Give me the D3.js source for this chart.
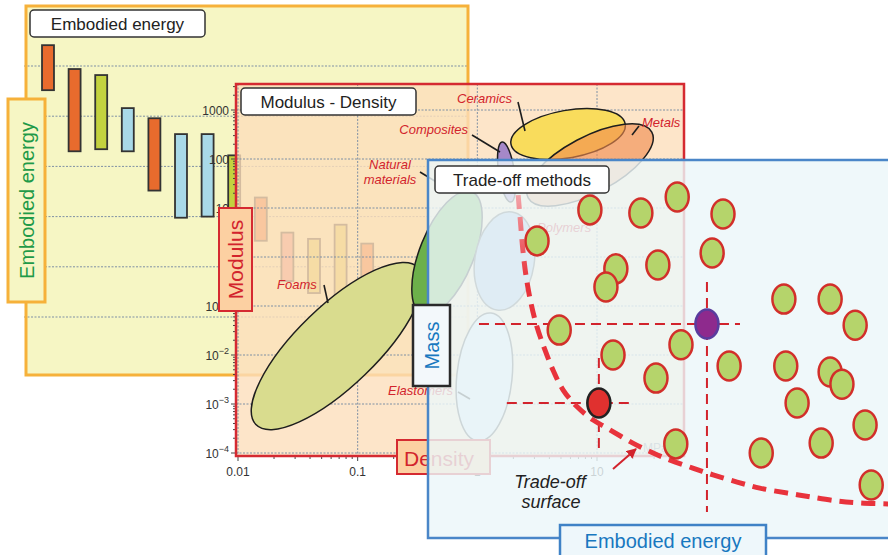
<!DOCTYPE html>
<html>
<head>
<meta charset="utf-8">
<script src="https://cdn.jsdelivr.net/npm/d3@7"></script>
<style>
  html, body { margin: 0; padding: 0; background: #ffffff; }
  svg { display: block; font-family: "Liberation Sans", Arial, Helvetica, sans-serif; }
</style>
</head>
<body>
<svg id="chart" width="888" height="555"></svg>
<script>
// ---------- Embodied energy ranges (MJ/kg), one bar per material family ----------
const barIds      = ["c1","c2","c3","c4","c5","c6","c7","c8","c9","c10","c11","c12","c13","c14"];
const energyLow   = [33000, 2000, 2200, 2000, 330, 95, 100, 130, 33, 5.2, 3.0, 1.6, 0.69, 0.72];
const energyHigh  = [260000, 87000, 66000, 14500, 9100, 4400, 4400, 1660, 240, 48, 36, 69, 29, 7.2];
const barFamily   = ["orange","orange","green","blue","orange","blue","blue","green","orange","pink","yellow","yellow","orange","green"];

// ---------- Modulus (GPa) vs density (Mg/m3) property envelopes ----------
// each envelope: major-axis end points and minor/major width ratio
const materialNames     = ["Foams","Natural materials","Polymers","Elastomers","Composites","Ceramics","Metals"];
const axisStartDensity  = [0.0141, 0.347, 1.46, 1.01, 1.61, 1.91, 2.66];
const axisStartModulus  = [3.8e-4, 0.068, 0.083, 1.76e-4, 222, 201, 16.1];
const axisEndDensity    = [0.321, 0.897, 1.95, 1.30, 1.91, 17.2, 28.7];
const axisEndModulus    = [0.611, 21.4, 8.28, 0.0719, 13.2, 520, 354];
const envelopeWidth     = [0.354, 0.41, 0.6, 0.43, 0.26, 0.41, 0.4];
const densityTicks      = [0.01, 0.1, 1, 10];
const modulusTicks      = [1e-4, 1e-3, 1e-2, 1e-1, 1, 10, 100, 1000];

// ---------- Trade-off: candidate solutions (embodied energy, mass; relative units) ----------
const ptEnergy = [23.1, 34.3, 45.1, 52.8, 62.5, 60.2, 48.7, 39.8, 37.7, 27.8, 39.2, 53.6, 48.3,
                  63.8, 75.4, 85.2, 90.5, 75.8, 85.2, 87.7, 78.2, 92.6, 83.3, 70.6, 52.5, 93.9];
const ptMass   = [78.6, 86.8, 86.0, 90.2, 85.7, 75.4, 72.2, 71.2, 66.4, 55.0, 48.4, 51.1, 42.3,
                  45.5, 63.2, 63.2, 56.3, 45.5, 43.9, 40.7, 35.7, 29.9, 25.1, 22.5, 24.9, 14.0];
// two highlighted solutions and the ranges of their guide lines
const chosenEnergy   = [36.2, 59.1];
const chosenMass     = [35.7, 56.6];
const guideEnergyMin = [16.7, 10.8];
const guideEnergyMax = [43.4, 66.1];
const guideMassMin   = [22.7, 6.9];
const guideMassMax   = [47.6, 67.7];
// trade-off surface (non-dominated front)
const frontEnergy = [19.1, 19.5, 20.1, 20.8, 21.8, 23.1, 24.8, 26.5, 28.6, 31.6, 35.0, 37.9, 43.4,
                     47.7, 51.3, 56.1, 60.4, 65.5, 70.3, 76.1, 80.9, 86.7, 91.5, 97.5];
const frontMass   = [90.7, 84.9, 76.2, 69.1, 62.2, 55.8, 49.7, 44.4, 39.2, 34.7, 31.2, 29.1, 25.1,
                     22.5, 20.6, 18.5, 16.7, 14.8, 13.2, 11.9, 10.9, 9.8, 9.3, 9.0];

// ================================================================
const svg = d3.select("#chart");
const defs = svg.append("defs");

const P1 = {x0: 26,  y0: 6,   x1: 468, y1: 375};
const P2 = {x0: 236, y0: 84,  x1: 684, y1: 456};
const P3 = {x0: 428, y0: 160, x1: 900, y1: 538};

const familyColor = {orange: "#e86b2d", green: "#c3d23f", blue: "#a9d9e8", pink: "#e3827c", yellow: "#ddd24e"};
const gridStroke = "#7f90a4";
const red = "#d2232c";

function labelBox(g, x, y, w, h, text, opts) {
  g.append("rect").attr("x", x).attr("y", y).attr("width", w).attr("height", h)
    .attr("rx", opts.rx != null ? opts.rx : 4).attr("fill", opts.fill).attr("stroke", opts.stroke)
    .attr("stroke-width", opts.sw || 1.5);
  const t = g.append("text").attr("font-size", opts.size).attr("fill", opts.color)
    .attr("text-anchor", "middle").attr("dominant-baseline", "central").text(text);
  if (opts.vertical) {
    t.attr("transform", `translate(${x + w / 2},${y + h / 2}) rotate(-90)`);
  } else {
    t.attr("x", opts.tx != null ? opts.tx : x + w / 2).attr("y", opts.ty != null ? opts.ty : y + h / 2 + 1);
  }
}

// ================= Panel 1 : embodied energy bar chart =================
const g1 = svg.append("g");
g1.append("rect").attr("x", P1.x0).attr("y", P1.y0)
  .attr("width", P1.x1 - P1.x0).attr("height", P1.y1 - P1.y0).attr("fill", "#f6f6c4");

const eY = d3.scaleLog().domain([1, 1e5]).range([317, 66]);
const eX = d3.scaleBand().domain(barIds).range([34.7, 407.1]).paddingInner(0.55).paddingOuter(0.275);

g1.selectAll("line.egrid").data(d3.range(0, 6).map(e => Math.pow(10, e))).join("line")
  .attr("x1", P1.x0 - 2).attr("x2", P1.x1)
  .attr("y1", d => eY(d)).attr("y2", d => eY(d))
  .attr("stroke", gridStroke).attr("stroke-width", 1).attr("stroke-dasharray", "2,1.5");

g1.selectAll("rect.bar").data(barIds).join("rect")
  .attr("x", d => eX(d)).attr("width", eX.bandwidth())
  .attr("y", (d, i) => eY(energyHigh[i]))
  .attr("height", (d, i) => eY(energyLow[i]) - eY(energyHigh[i]))
  .attr("fill", (d, i) => familyColor[barFamily[i]])
  .attr("stroke", "#333").attr("stroke-width", 1.8);

g1.append("rect").attr("x", P1.x0).attr("y", P1.y0)
  .attr("width", P1.x1 - P1.x0).attr("height", P1.y1 - P1.y0)
  .attr("fill", "none").attr("stroke", "#f6b13a").attr("stroke-width", 3);

labelBox(g1, 30, 10, 175, 27, "Embodied energy", {fill: "#ffffff", stroke: "#333", size: 17, color: "#222"});
labelBox(g1, 8, 99, 37, 203, "Embodied energy",
  {fill: "#f6f6c4", stroke: "#f6b13a", sw: 3, rx: 0, size: 20, color: "#1f9a48", vertical: true});

// ================= Panel 2 : modulus - density chart =================
const g2 = svg.append("g");
const mX = d3.scaleLog().domain([0.01, 10]).range([238, 597]);
const mY = d3.scaleLog().domain([1e-4, 1e3]).range([453, 110]);

defs.append("clipPath").attr("id", "clip2").append("rect")
  .attr("x", P2.x0).attr("y", P2.y0).attr("width", P2.x1 - P2.x0).attr("height", P2.y1 - P2.y0);

g2.append("rect").attr("x", P2.x0).attr("y", P2.y0)
  .attr("width", P2.x1 - P2.x0).attr("height", P2.y1 - P2.y0)
  .attr("fill", "#fddfbb").attr("fill-opacity", 0.8);

const g2in = g2.append("g").attr("clip-path", "url(#clip2)");
g2in.selectAll("line.ygrid").data(modulusTicks).join("line")
  .attr("x1", P2.x0).attr("x2", P2.x1).attr("y1", d => mY(d)).attr("y2", d => mY(d))
  .attr("stroke", gridStroke).attr("stroke-width", 1).attr("stroke-dasharray", "2,1.5");
g2in.selectAll("line.xgrid").data(densityTicks).join("line")
  .attr("y1", P2.y0).attr("y2", P2.y1).attr("x1", d => mX(d)).attr("x2", d => mX(d))
  .attr("stroke", gridStroke).attr("stroke-width", 1).attr("stroke-dasharray", "2,1.5");

// property envelopes
const envStyle = {
  "Foams":             {fill: "#d9dc8e", stroke: "#1e1e1e", op: 1},
  "Natural materials": {fill: "#6cb04a", stroke: "#1e1e1e", op: 1},
  "Polymers":          {fill: "#a6bedb", stroke: "#555", op: 1},
  "Elastomers":        {fill: "#dce8f1", stroke: "#444", op: 1},
  "Composites":        {fill: "#a688c8", stroke: "#1e1e1e", op: 1},
  "Ceramics":          {fill: "#f9dc5c", stroke: "#1e1e1e", op: 1},
  "Metals":            {fill: "#f08a4e", stroke: "#1e1e1e", op: 0.62}
};
materialNames.forEach((name, i) => {
  const ax = mX(axisStartDensity[i]), ay = mY(axisStartModulus[i]);
  const bx = mX(axisEndDensity[i]),   by = mY(axisEndModulus[i]);
  const cx = (ax + bx) / 2, cy = (ay + by) / 2;
  const a = Math.hypot(bx - ax, by - ay) / 2;
  const ang = Math.atan2(by - ay, bx - ax) * 180 / Math.PI;
  const s = envStyle[name];
  g2in.append("ellipse").attr("cx", cx).attr("cy", cy).attr("rx", a).attr("ry", a * envelopeWidth[i])
    .attr("transform", `rotate(${ang},${cx},${cy})`)
    .attr("fill", s.fill).attr("fill-opacity", s.op)
    .attr("stroke", s.stroke).attr("stroke-width", 1.5);
});

// envelope labels and leaders
const envLabels = [
  {lines: ["Foams"], x: 277, y: 289, anchor: "start", leader: [324, 285, 328, 303]},
  {lines: ["Natural", "materials"], x: 390, y: 169, anchor: "middle", leader: [420, 172, 438, 183]},
  {lines: ["Composites"], x: 468, y: 134, anchor: "end", leader: [472, 135, 500, 152]},
  {lines: ["Ceramics"], x: 457, y: 103, anchor: "start", leader: [518, 102, 525, 131]},
  {lines: ["Metals"], x: 642, y: 127, anchor: "start", leader: [639, 126, 632, 135]},
  {lines: ["Polymers"], x: 537, y: 232, anchor: "start", leader: null},
  {lines: ["Elastomers"], x: 388, y: 395, anchor: "start", leader: [458, 392, 470, 399]}
];
envLabels.forEach(l => {
  const t = g2.append("text").attr("font-size", 13).attr("font-style", "italic")
    .attr("fill", red).attr("text-anchor", l.anchor);
  l.lines.forEach((s, k) => t.append("tspan").attr("x", l.x).attr("y", l.y + k * 15).text(s));
  if (l.leader) {
    g2.append("line").attr("x1", l.leader[0]).attr("y1", l.leader[1])
      .attr("x2", l.leader[2]).attr("y2", l.leader[3])
      .attr("stroke", "#1e1e1e").attr("stroke-width", 1.6);
  }
});
g2.append("text").attr("x", 643).attr("y", 452).attr("font-size", 12).attr("fill", "#8a8a8a").text("MPa");

// axes: minor ticks at every 1..9 multiple, labels on decades
const yMinor = [], xMinor = [];
modulusTicks.forEach(d => d3.range(1, 10).forEach(k => { const v = d * k; if (mY(v) >= P2.y0 + 2) yMinor.push(v); }));
densityTicks.forEach(d => d3.range(1, 10).forEach(k => { const v = d * k; if (mX(v) <= P2.x1 - 2) xMinor.push(v); }));
const isDecade = v => Math.abs(Math.log10(v) - Math.round(Math.log10(v))) < 1e-6;

g2.selectAll("line.ytick").data(yMinor).join("line")
  .attr("x1", d => P2.x0 - (isDecade(d) ? 5 : 3)).attr("x2", P2.x0)
  .attr("y1", d => mY(d)).attr("y2", d => mY(d))
  .attr("stroke", "#444").attr("stroke-width", 1);
g2.selectAll("line.xtick").data(xMinor).join("line")
  .attr("y1", P2.y1).attr("y2", d => P2.y1 + (isDecade(d) ? 5 : 3))
  .attr("x1", d => mX(d)).attr("x2", d => mX(d))
  .attr("stroke", "#444").attr("stroke-width", 1);

g2.append("rect").attr("x", P2.x0).attr("y", P2.y0)
  .attr("width", P2.x1 - P2.x0).attr("height", P2.y1 - P2.y0)
  .attr("fill", "none").attr("stroke", "#d52a31").attr("stroke-width", 2.5);

g2.selectAll("text.ylab").data(modulusTicks).join("text")
  .attr("x", P2.x0 - 7).attr("y", d => mY(d) + 4.5)
  .attr("text-anchor", "end").attr("font-size", 12).attr("fill", "#333")
  .each(function (d) {
    const e = Math.round(Math.log10(d));
    const t = d3.select(this);
    if (e >= 0) { t.text(String(Math.round(d))); }
    else {
      t.append("tspan").text("10");
      t.append("tspan").attr("dy", -5.5).attr("font-size", 9).text("\u2212" + (-e));
    }
  });
g2.selectAll("text.xlab").data(densityTicks).join("text")
  .attr("x", d => mX(d)).attr("y", P2.y1 + 20)
  .attr("text-anchor", "middle").attr("font-size", 12).attr("fill", "#333")
  .text(d => String(d));

labelBox(g2, 241, 88, 175, 27, "Modulus - Density", {fill: "#ffffff", stroke: "#333", size: 17, color: "#222"});
labelBox(g2, 219, 208, 33, 103, "Modulus",
  {fill: "#fcd0a2", stroke: "#d52a31", sw: 2, rx: 0, size: 21, color: "#d2232c", vertical: true});
labelBox(g2, 397, 440, 93, 34, "Density",
  {fill: "#fcd0a2", stroke: "#d52a31", sw: 2, rx: 0, size: 21, color: "#d2232c", tx: 439});

// ================= Panel 3 : trade-off methods =================
const g3 = svg.append("g");
const xE = d3.scaleLinear().domain([0, 100]).range([P3.x0, P3.x1]);
const yM = d3.scaleLinear().domain([0, 100]).range([P3.y1, P3.y0]);

g3.append("rect").attr("x", P3.x0).attr("y", P3.y0)
  .attr("width", P3.x1 - P3.x0).attr("height", P3.y1 - P3.y0)
  .attr("fill", "#ebf6f9").attr("fill-opacity", 0.82);
g3.append("rect").attr("x", P3.x0).attr("y", P3.y0)
  .attr("width", P3.x1 - P3.x0).attr("height", P3.y1 - P3.y0)
  .attr("fill", "none").attr("stroke", "#4a86c8").attr("stroke-width", 2.5);

// guide lines through the highlighted solutions
chosenEnergy.forEach((e, i) => {
  g3.append("line").attr("x1", xE(guideEnergyMin[i])).attr("x2", xE(guideEnergyMax[i]))
    .attr("y1", yM(chosenMass[i])).attr("y2", yM(chosenMass[i]))
    .attr("stroke", red).attr("stroke-width", 2).attr("stroke-dasharray", "10,6");
  g3.append("line").attr("x1", xE(e)).attr("x2", xE(e))
    .attr("y1", yM(guideMassMax[i])).attr("y2", yM(guideMassMin[i]))
    .attr("stroke", red).attr("stroke-width", 2).attr("stroke-dasharray", "10,6");
});

// trade-off surface
const frontPts = frontEnergy.map((e, i) => [xE(e), yM(frontMass[i])]);
const grad = defs.append("linearGradient").attr("id", "frontFade")
  .attr("gradientUnits", "userSpaceOnUse")
  .attr("x1", 0).attr("x2", 0).attr("y1", frontPts[0][1]).attr("y2", frontPts[0][1] + 95);
grad.append("stop").attr("offset", 0).attr("stop-color", "#f3a3a8");
grad.append("stop").attr("offset", 0.9).attr("stop-color", "#e8333c");
g3.append("path").datum(frontPts)
  .attr("d", d3.line().curve(d3.curveCatmullRom.alpha(0.5)))
  .attr("fill", "none").attr("stroke", "url(#frontFade)").attr("stroke-width", 5)
  .attr("stroke-dasharray", "14,8").attr("stroke-linecap", "butt");

// candidate solutions
g3.selectAll("ellipse.pt").data(ptEnergy).join("ellipse")
  .attr("cx", d => xE(d)).attr("cy", (d, i) => yM(ptMass[i]))
  .attr("rx", 11.5).attr("ry", 14.5)
  .attr("fill", "#b5d46b").attr("stroke", "#d22f2a").attr("stroke-width", 2.5);

// highlighted solutions
const chosenStyle = [{fill: "#e0312f", stroke: "#222"}, {fill: "#8e2a8d", stroke: "#5a3c9e"}];
chosenEnergy.forEach((e, i) => {
  g3.append("ellipse").attr("cx", xE(e)).attr("cy", yM(chosenMass[i]))
    .attr("rx", 11.5).attr("ry", 14.5)
    .attr("fill", chosenStyle[i].fill).attr("stroke", chosenStyle[i].stroke).attr("stroke-width", 2.6);
});

// annotation arrow
defs.append("marker").attr("id", "arrowHead").attr("viewBox", "0 0 10 10")
  .attr("refX", 9).attr("refY", 5).attr("markerWidth", 5).attr("markerHeight", 5)
  .attr("orient", "auto").append("path").attr("d", "M0,0 L10,5 L0,10 z").attr("fill", red);
g3.append("line").attr("x1", 613).attr("y1", 469).attr("x2", 636).attr("y2", 449)
  .attr("stroke", red).attr("stroke-width", 2).attr("marker-end", "url(#arrowHead)");
const ts = g3.append("text").attr("font-size", 18).attr("font-style", "italic")
  .attr("fill", "#222").attr("text-anchor", "middle");
ts.append("tspan").attr("x", 550).attr("y", 488).text("Trade-off");
ts.append("tspan").attr("x", 551).attr("y", 508).text("surface");

labelBox(g3, 435, 166, 174, 27, "Trade-off methods", {fill: "#ffffff", stroke: "#333", size: 17, color: "#222"});
labelBox(g3, 413, 305, 37, 81, "Mass",
  {fill: "#f3f8fb", stroke: "#2a2a2a", sw: 2.5, rx: 0, size: 20, color: "#1878c0", vertical: true});
labelBox(g3, 560, 525, 206, 40, "Embodied energy",
  {fill: "#eef7fb", stroke: "#3f82c6", sw: 2.5, rx: 0, size: 20, color: "#1878c0", ty: 541});
</script>
</body>
</html>
